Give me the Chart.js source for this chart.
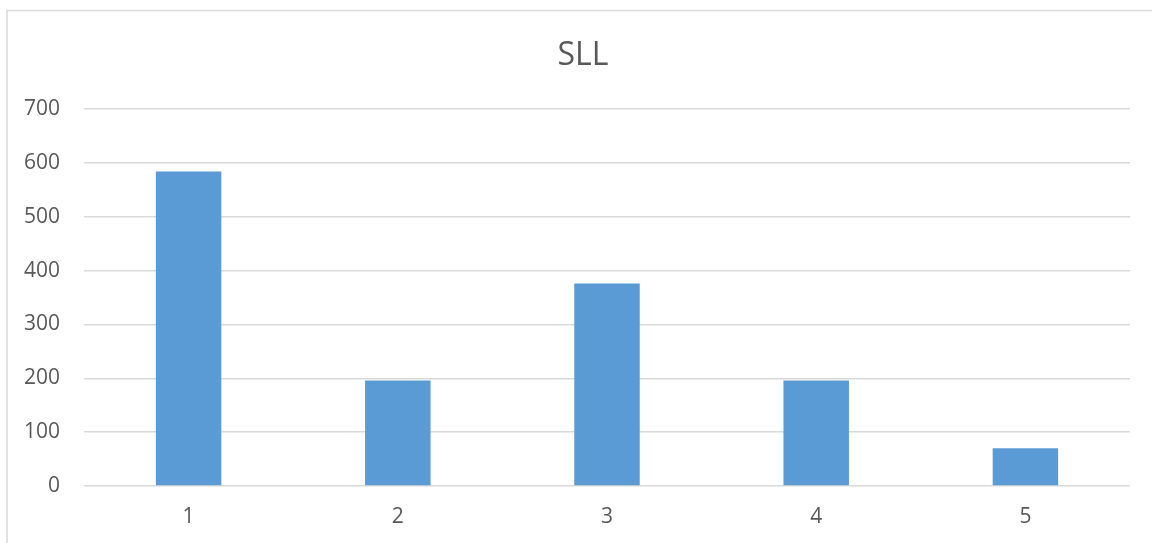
<!DOCTYPE html>
<html>
<head>
<meta charset="utf-8">
<title>SLL</title>
<script src="https://cdn.jsdelivr.net/npm/chart.js@4/dist/chart.umd.min.js"></script>
<style>
  html, body { margin: 0; padding: 0; background: #ffffff; }
  #wrap { position: relative; width: 1152px; height: 543px; }
</style>
</head>
<body>
<div id="wrap"><canvas id="chart" width="1152" height="543"></canvas></div>
<script>
// Categories and values of the SLL series
const categories = ['1', '2', '3', '4', '5'];
const sllValues = [584, 196, 376, 196, 70];
const yTicks = [0, 100, 200, 300, 400, 500, 600, 700];
const chartTitle = 'SLL';

const textColor = '#595959';
const gridColor = '#d9d9d9';
const barColor = '#5b9bd5';
const fontFamily = '"Open Sans", "Noto Sans", sans-serif';

// Light frame around the chart (left and top edges) and a title centred on that frame
const framePlugin = {
  id: 'frame',
  beforeDraw(chart) {
    const ctx = chart.ctx;
    ctx.save();
    ctx.fillStyle = '#ffffff';
    ctx.fillRect(0, 0, chart.width, chart.height);
    ctx.strokeStyle = gridColor;
    ctx.lineWidth = 1.5;
    ctx.beginPath();
    ctx.moveTo(7, chart.height);
    ctx.lineTo(7, 10.5);
    ctx.lineTo(chart.width, 10.5);
    ctx.stroke();

    ctx.fillStyle = textColor;
    ctx.font = '32px ' + fontFamily;
    ctx.textAlign = 'center';
    ctx.textBaseline = 'alphabetic';
    ctx.fillText(chartTitle, 583, 65);
    ctx.restore();
  }
};

new Chart(document.getElementById('chart'), {
  type: 'bar',
  data: {
    labels: categories,
    datasets: [{
      label: chartTitle,
      data: sllValues,
      backgroundColor: barColor,
      borderWidth: 0,
      categoryPercentage: 1,
      barPercentage: 0.313
    }]
  },
  options: {
    responsive: false,
    animation: false,
    layout: { padding: { left: 0, right: 22, top: 109, bottom: 0 } },
    plugins: {
      legend: { display: false },
      tooltip: { enabled: false },
      title: { display: false }
    },
    scales: {
      x: {
        grid: { display: false, drawTicks: false },
        border: { display: false },
        ticks: {
          color: textColor,
          font: { family: fontFamily, size: 21 },
          padding: 18
        },
        afterFit(scale) { scale.height = 57; }
      },
      y: {
        min: 0,
        max: 700,
        afterBuildTicks(scale) { scale.ticks = yTicks.map(v => ({ value: v })); },
        grid: { color: gridColor, lineWidth: 1.5, drawTicks: false },
        border: { display: false },
        ticks: {
          color: textColor,
          font: { family: fontFamily, size: 21 },
          padding: 24
        },
        afterFit(scale) { scale.width = 84; }
      }
    }
  },
  plugins: [framePlugin]
});
</script>
</body>
</html>
